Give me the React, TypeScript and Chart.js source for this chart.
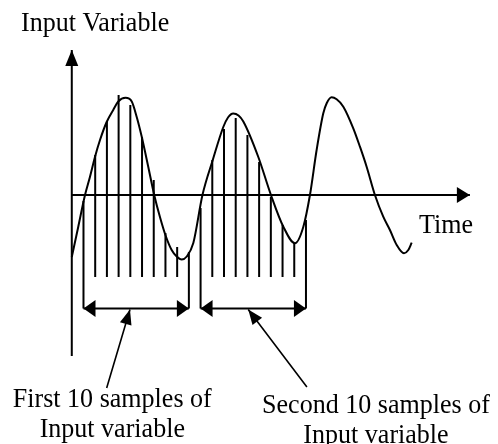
import React, { useEffect, useRef } from "react";
import { Chart, registerables } from "chart.js";

Chart.register(...registerables);

// ---- data (time in sample periods, value in signal units) ----
const curveTime = [0, 0.55, 1.13, 1.55, 1.98, 2.41, 2.98, 3.54, 3.97, 4.59, 5.12, 5.54, 5.97, 6.53, 7.04, 7.53, 8.04, 8.53, 8.96, 9.39, 9.82, 10.38, 11.16, 12.04, 12.94, 13.34, 13.79, 14.24, 14.65, 15.93, 17.01, 18.06, 19.06, 19.77, 20.34, 20.91, 21.48, 21.77, 22.19, 22.62, 23.19, 24.04, 24.61, 25.18, 25.89, 26.6, 27.17, 27.75, 28.37, 28.74, 29.03];
const curveValue = [-6.2, -3.2, 0, 1.8, 3.8, 5.5, 7.3, 8.5, 9.35, 9.72, 9.35, 7.83, 5.85, 2.83, 0, -2.2, -4.15, -5.5, -6.15, -6.45, -6.15, -4.8, 0, 3.5, 6.8, 7.75, 8.15, 7.95, 7.35, 3.8, 0, -3.15, -4.83, -3.2, 0, 4.5, 8.17, 9.17, 9.77, 9.57, 8.83, 6.67, 4.83, 2.83, 0, -2.17, -3.5, -5.0, -5.83, -5.5, -4.77];

const sampleTime = [1, 2, 3, 4, 5, 6, 7, 8, 9, 10, 11, 12, 13, 14, 15, 16, 17, 18, 19, 20];
const sampleValue = [-0.6, 4.0, 7.3, 10.0, 9.0, 5.8, 1.5, -3.8, -5.2, -5.7, -1.3, 3.5, 6.6, 7.7, 6.0, 3.3, -0.2, -3.0, -4.8, -2.5];
const stemFloor = -8.2;
const bracketFloor = -11.35;

const groupStart = [1, 11];
const groupEnd = [10, 20];

const yAxisFrom = -16.1;
const yAxisTo = 14.5;
const xAxisTo = 34.0;

const pointerTail = [
  [2.98, -19.3],
  [20.08, -19.2],
];
const pointerTip = [
  [4.97, -11.45],
  [15.07, -11.45],
];

const yTitle = "Input Variable";
const xTitle = "Time";
const groupLabels = [
  ["First 10 samples of", "Input variable"],
  ["Second 10 samples of", "Input variable"],
];

// ---- derived datasets ----
const curveData = curveTime.map((t, i) => ({ x: t, y: curveValue[i] }));

const isBracket = (t: number) => groupStart.includes(t) || groupEnd.includes(t);
const stemData: { x: number; y: number | null }[] = [];
sampleTime.forEach((t, i) => {
  stemData.push({ x: t, y: sampleValue[i] });
  stemData.push({ x: t, y: isBracket(t) ? bracketFloor : stemFloor });
  stemData.push({ x: t, y: null });
});

const spanData: { x: number; y: number | null }[] = [];
groupStart.forEach((s, i) => {
  spanData.push({ x: s, y: bracketFloor });
  spanData.push({ x: groupEnd[i], y: bracketFloor });
  spanData.push({ x: groupEnd[i], y: null });
});

const axesData = [
  { x: 0, y: yAxisFrom },
  { x: 0, y: yAxisTo },
  { x: 0, y: null },
  { x: 0, y: 0 },
  { x: xAxisTo, y: 0 },
];

const pointerData: { x: number; y: number | null }[] = [];
pointerTail.forEach((p, i) => {
  pointerData.push({ x: p[0], y: p[1] });
  pointerData.push({ x: pointerTip[i][0], y: pointerTip[i][1] });
  pointerData.push({ x: pointerTip[i][0], y: null });
});

type Arrow = { from: number[]; to: number[]; len: number; half: number };
const arrows: Arrow[] = [
  { from: [0, yAxisFrom], to: [0, yAxisTo], len: 16, half: 6.5 },
  { from: [0, 0], to: [xAxisTo, 0], len: 13, half: 8 },
  ...groupStart.flatMap((s, i) => [
    { from: [groupEnd[i], bracketFloor], to: [s, bracketFloor], len: 12, half: 8.5 },
    { from: [s, bracketFloor], to: [groupEnd[i], bracketFloor], len: 12, half: 8.5 },
  ]),
  ...pointerTail.map((p, i) => ({ from: p, to: pointerTip[i], len: 15, half: 6 })),
];

const arrowPlugin = {
  id: "arrowsAndText",
  afterDatasetsDraw(chart: any) {
    const ctx = chart.ctx as CanvasRenderingContext2D;
    const xs = chart.scales.x;
    const ys = chart.scales.y;
    const px = (v: number) => xs.getPixelForValue(v);
    const py = (v: number) => ys.getPixelForValue(v);
    ctx.save();
    ctx.fillStyle = "#000";
    arrows.forEach((a) => {
      const x0 = px(a.from[0]);
      const y0 = py(a.from[1]);
      const x1 = px(a.to[0]);
      const y1 = py(a.to[1]);
      const d = Math.hypot(x1 - x0, y1 - y0);
      const ux = (x1 - x0) / d;
      const uy = (y1 - y0) / d;
      const bx = x1 - ux * a.len;
      const by = y1 - uy * a.len;
      ctx.beginPath();
      ctx.moveTo(x1, y1);
      ctx.lineTo(bx - uy * a.half, by + ux * a.half);
      ctx.lineTo(bx + uy * a.half, by - ux * a.half);
      ctx.closePath();
      ctx.fill();
    });

    const text = (s: string, x: number, y: number, align: CanvasTextAlign) => {
      ctx.save();
      ctx.translate(x, y);
      ctx.scale(0.93, 1);
      ctx.textAlign = align;
      ctx.textBaseline = "alphabetic";
      ctx.font = '28px "Liberation Serif", "Times New Roman", serif';
      ctx.fillText(s, 0, 0);
      ctx.restore();
    };
    text(yTitle, px(-4.34), py(16.4), "left");
    text(xTitle, px(29.65), py(-3.8), "left");
    text(groupLabels[0][0], px(3.46), py(-21.17), "center");
    text(groupLabels[0][1], px(3.46), py(-24.17), "center");
    text(groupLabels[1][0], px(25.98), py(-21.83), "center");
    text(groupLabels[1][1], px(25.98), py(-24.8), "center");
    ctx.restore();
  },
};

export default function App() {
  const ref = useRef<HTMLCanvasElement | null>(null);
  useEffect(() => {
    if (!ref.current) return;
    const chart = new Chart(ref.current, {
      type: "line",
      data: {
        datasets: [
          {
            data: curveData,
            borderColor: "#000",
            borderWidth: 2,
            pointRadius: 0,
            cubicInterpolationMode: "monotone",
          },
          { data: stemData, borderColor: "#000", borderWidth: 2, pointRadius: 0, spanGaps: false },
          { data: spanData, borderColor: "#000", borderWidth: 2, pointRadius: 0, spanGaps: false },
          { data: axesData, borderColor: "#000", borderWidth: 2, pointRadius: 0, spanGaps: false },
          { data: pointerData, borderColor: "#000", borderWidth: 1.6, pointRadius: 0, spanGaps: false },
        ] as any,
      },
      options: {
        animation: false,
        responsive: false,
        devicePixelRatio: 1,
        layout: { padding: 0 },
        plugins: { legend: { display: false }, tooltip: { enabled: false } },
        events: [],
        scales: {
          x: { type: "linear", min: -6.13, max: 36.4, display: false },
          y: { type: "linear", min: -24.9, max: 19.5, display: false },
        },
      },
      plugins: [arrowPlugin],
    });
    return () => chart.destroy();
  }, []);
  return (
    <div style={{ position: "fixed", left: 0, top: 0, width: 498, height: 444, background: "#fff" }}>
      <canvas ref={ref} width={498} height={444} style={{ display: "block" }} />
    </div>
  );
}
